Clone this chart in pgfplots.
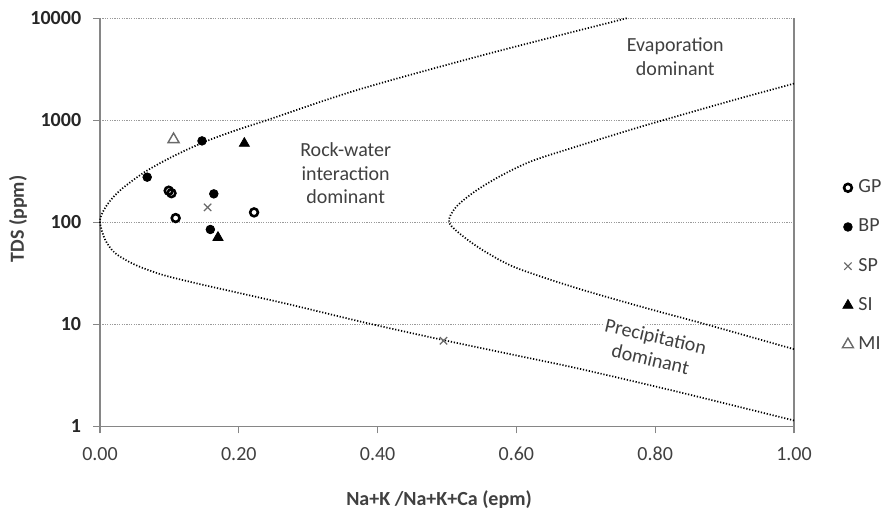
\documentclass[border=0pt]{standalone}
\usepackage{pgfplots}
\pgfplotsset{compat=1.18}
\usepackage{fontspec}
\setmainfont{Carlito}
\definecolor{txt}{HTML}{404040}
\definecolor{axgray}{HTML}{868686}
\definecolor{gridgray}{HTML}{9A9A9A}
\definecolor{mgray}{HTML}{6A6A6A}
\begin{document}
\begin{tikzpicture}
\useasboundingbox (-50pt,-40.85pt) rectangle (391.5pt,213.15pt);
\begin{axis}[
  scale only axis,
  width=347pt, height=204pt,
  at={(0,0)}, anchor=south west,
  ymode=log,
  xmin=0, xmax=1, ymin=1, ymax=10000,
  axis x line*=bottom,
  axis y line*=box,
  axis line style={-, draw=axgray, line width=0.7pt},
  every outer x axis line/.append style={-},
  every outer y axis line/.append style={-},
  tick align=outside,
  major tick length=3.5pt,
  tick style={draw=axgray, line width=0.6pt},
  xtick pos=bottom, ytick pos=left,
  yminorticks=false,
  ymajorgrids,
  grid style={draw=gridgray, line width=0.5pt, dash pattern=on 0.6pt off 0.6pt},
  ytick={1,10,100,1000,10000},
  yticklabels={1,10,100,1000,10000},
  xtick={0,0.2,0.4,0.6,0.8,1},
  xticklabels={0.00,0.20,0.40,0.60,0.80,1.00},
  yticklabel style={font=\fontsize{10}{12}\selectfont\bfseries, text=black!85, xshift=-2.4pt},
  xticklabel style={font=\fontsize{10}{12}\selectfont, text=txt, yshift=-3.4pt},
  xlabel={Na+K /Na+K+Ca (epm)},
  ylabel={TDS (ppm)},
  every axis x label/.style={at={(axis description cs:0.4885,0)}, yshift=-36.5pt, anchor=center, font=\fontsize{10}{12}\selectfont\bfseries, text=txt},
  every axis y label/.style={at={(axis description cs:0,0.508)}, xshift=-41pt, rotate=90, anchor=center, font=\fontsize{10}{12}\selectfont\bfseries, text=txt},
  legend style={at={(axis description cs:1,0.6076)}, anchor=north west, xshift=24pt, draw=none, fill=none, inner sep=0pt, row sep=10.6pt,
    nodes={inner sep=0pt, text height=7pt, text depth=2pt}, font=\fontsize{10}{12}\selectfont, text=txt,
    /tikz/every odd column/.append style={column sep=2.5pt}},
  legend cell align=left,
  /pgfplots/only mark legend/.style={legend image code/.code={\draw[mark repeat=1,##1,mark size=2pt,line width=0.5pt,every mark/.append style={line width=0.5pt}] plot coordinates {(0.1cm,3.2pt)};}},
  clip=false,
]
% boundary curves
\addplot[forget plot, smooth, black, line width=0.85pt, dash pattern=on 0.6pt off 0.9pt] coordinates {
(0.759,10000) (0.558,4467) (0.372,1995) (0.240,1000) (0.194,790) (0.155,631) (0.1215,501)
(0.092,398) (0.066,316) (0.045,251) (0.027,200) (0.0132,158) (0.004,126) (0,100)
(0.0072,68) (0.0216,50) (0.050,38.5) (0.089,30.7) (0.137,25.4) (0.185,21.4) (0.274,15.6)
(0.384,10.3) (0.495,7.0) (0.600,4.95) (0.692,3.65) (0.836,2.15) (1.0,1.14)
};
\addplot[forget plot, smooth, black, line width=0.85pt, dash pattern=on 0.6pt off 0.9pt] coordinates {
(1.0,2290) (0.914,1585) (0.811,1000) (0.761,794) (0.690,562) (0.622,398) (0.576,282) (0.540,200)
(0.513,141) (0.503,100) (0.5255,70.8) (0.558,50.1) (0.601,35.5) (0.689,22.4) (0.792,14.1) (0.873,10) (1.0,5.7)
};
% data
\addplot[only marks, mark=o, mark size=1.95pt, line width=1.3pt, black] coordinates {
(0.099,204) (0.103,193) (0.109,110) (0.222,125)
};
\addlegendentry{GP}
\addplot[only marks, mark=*, mark size=2.15pt, black] coordinates {
(0.147,628) (0.068,277) (0.164,190) (0.159,85)
};
\addlegendentry{BP}
\addplot[only marks, mark=x, mark size=2.6pt, line width=0.6pt, mgray] coordinates {
(0.155,140) (0.495,6.9)
};
\addlegendentry{SP}
\addplot[only marks, mark=triangle*, mark size=2.9pt, black] coordinates {
(0.208,593) (0.170,71)
};
\addlegendentry{SI}
\addplot[only marks, mark=triangle, mark size=3.2pt, line width=0.7pt, mgray] coordinates {
(0.106,649)
};
\addlegendentry{MI}
% region labels
\node[align=center, text=txt, font=\fontsize{10}{11.7}\selectfont] at (axis cs:0.829,4190) {Evaporation\\dominant};
\node[align=center, text=txt, font=\fontsize{10}{11.7}\selectfont] at (axis cs:0.354,303) {Rock-water\\interaction\\dominant};
\node[align=center, text=txt, font=\fontsize{10}{11.7}\selectfont, fill=white, inner sep=1pt, rotate=-13] at (axis cs:0.797,5.9) {Precipitation\\dominant};
\end{axis}
\end{tikzpicture}
\end{document}
